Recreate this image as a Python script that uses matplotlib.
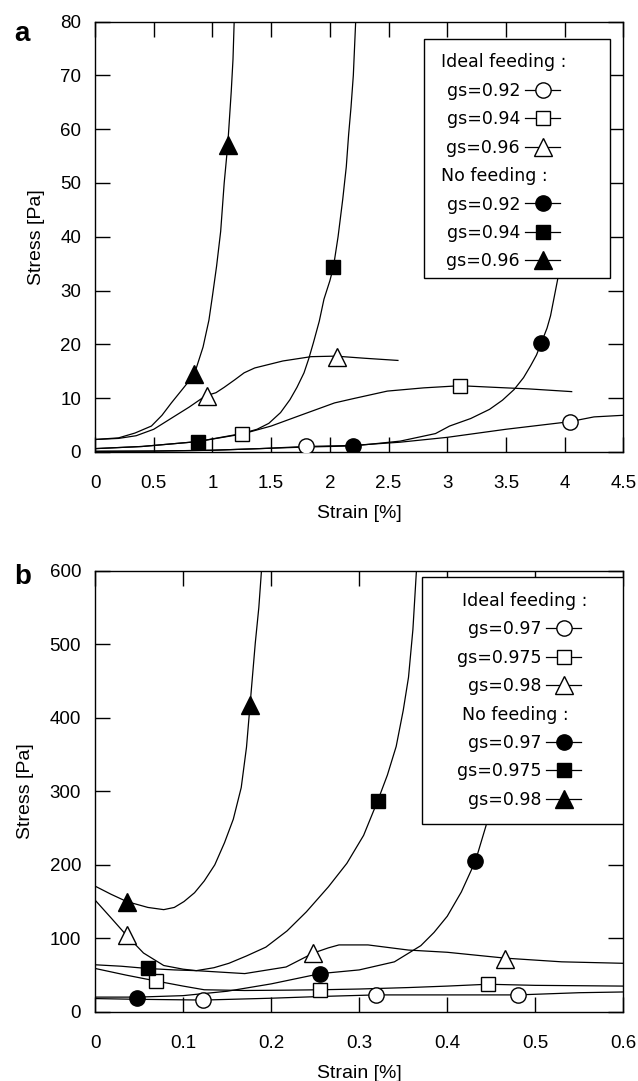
import matplotlib
matplotlib.use("Agg")
import matplotlib.pyplot as plt
from matplotlib.lines import Line2D
from matplotlib.patches import Rectangle

plt.rcParams['font.family'] = ['Liberation Sans', 'DejaVu Sans']

# ---------------- panel a data (strain %, stress Pa) ----------------
A_IDEAL_092_X = [0, 0.5, 1.0, 1.4, 1.8, 2.2, 2.6, 3.0, 3.5, 4.04, 4.25, 4.5]
A_IDEAL_092_Y = [0.1, 0.15, 0.3, 0.6, 1.0, 1.2, 1.8, 2.7, 4.2, 5.6, 6.5, 6.8]
A_IDEAL_092_MX = [1.80, 4.05]
A_IDEAL_092_MY = [1.1, 5.6]

A_NOFEED_092_X = [0, 0.5, 1.0, 1.4, 1.8, 2.2, 2.6, 2.9, 3.02, 3.2, 3.36, 3.47, 3.57, 3.65, 3.71, 3.76, 3.8, 3.85, 3.88, 3.94, 4.0]
A_NOFEED_092_Y = [0.1, 0.15, 0.3, 0.6, 0.9, 1.1, 2.0, 3.4, 4.8, 6.2, 7.9, 9.6, 11.6, 13.8, 16.0, 18.0, 20.2, 23.0, 25.3, 32.0, 42.0]
A_NOFEED_092_MX = [2.2, 3.8]
A_NOFEED_092_MY = [1.1, 20.2]

A_IDEAL_094_X = [0, 0.4, 0.87, 1.25, 1.5, 1.75, 2.04, 2.2, 2.49, 2.8, 3.11, 3.4, 3.7, 4.06]
A_IDEAL_094_Y = [0.6, 1.0, 1.9, 3.3, 4.8, 6.8, 9.1, 9.9, 11.3, 11.9, 12.3, 12.0, 11.7, 11.2]
A_IDEAL_094_MX = [1.25, 3.11]
A_IDEAL_094_MY = [3.25, 12.3]

A_NOFEED_094_X = [0, 0.4, 0.87, 1.25, 1.38, 1.48, 1.58, 1.66, 1.72, 1.78, 1.82, 1.86, 1.91, 1.95, 2.0, 2.03, 2.07, 2.11, 2.14, 2.16, 2.18, 2.2, 2.22]
A_NOFEED_094_Y = [0.6, 1.0, 1.9, 3.4, 4.2, 5.3, 7.3, 9.7, 12.0, 14.7, 17.3, 20.3, 24.3, 28.4, 31.8, 34.3, 40.0, 47.0, 53.0, 59.0, 64.0, 70.0, 80.0]
A_NOFEED_094_MX = [0.88, 2.03]
A_NOFEED_094_MY = [1.9, 34.3]

A_IDEAL_096_X = [0, 0.2, 0.35, 0.5, 0.69, 0.8, 0.94, 1.03, 1.1, 1.19, 1.27, 1.36, 1.6, 1.84, 2.05, 2.3, 2.58]
A_IDEAL_096_Y = [2.3, 2.5, 3.0, 4.2, 6.8, 8.3, 10.4, 11.0, 12.0, 13.4, 14.7, 15.6, 16.9, 17.7, 17.8, 17.4, 17.0]
A_IDEAL_096_MX = [0.95, 2.06]
A_IDEAL_096_MY = [10.4, 17.7]

A_NOFEED_096_X = [0, 0.2, 0.34, 0.48, 0.57, 0.65, 0.75, 0.845, 0.92, 0.97, 1.0, 1.035, 1.07, 1.1, 1.13, 1.16, 1.175, 1.185]
A_NOFEED_096_Y = [2.3, 2.6, 3.5, 4.8, 6.8, 9.1, 11.8, 14.4, 19.5, 24.5, 29.0, 34.5, 41.0, 50.0, 57.0, 67.0, 73.0, 80.0]
A_NOFEED_096_MX = [0.845, 1.13]
A_NOFEED_096_MY = [14.5, 57.0]

A_XTICKS = [0, 0.5, 1, 1.5, 2, 2.5, 3, 3.5, 4, 4.5]
A_XLABELS = ["0", "0.5", "1", "1.5", "2", "2.5", "3", "3.5", "4", "4.5"]
A_YTICKS = [0, 10, 20, 30, 40, 50, 60, 70, 80]
A_LEGEND = ["gs=0.92", "gs=0.94", "gs=0.96"]

# ---------------- panel b data ----------------
B_IDEAL_097_X = [0, 0.05, 0.123, 0.2, 0.26, 0.319, 0.4, 0.48, 0.55, 0.6]
B_IDEAL_097_Y = [18, 17, 16, 18.5, 21, 23, 23, 23, 26, 27]
B_IDEAL_097_MX = [0.123, 0.319, 0.48]
B_IDEAL_097_MY = [16, 23, 23]

B_NOFEED_097_X = [0, 0.048, 0.1, 0.15, 0.2, 0.256, 0.3, 0.34, 0.37, 0.385, 0.4, 0.416, 0.432, 0.444, 0.46, 0.475]
B_NOFEED_097_Y = [20, 20, 22, 28, 38, 52, 57, 68, 90, 108, 130, 163, 205, 253, 350, 480]
B_NOFEED_097_MX = [0.048, 0.256, 0.432]
B_NOFEED_097_MY = [19, 52, 205]

B_IDEAL_0975_X = [0, 0.035, 0.069, 0.1, 0.124, 0.17, 0.22, 0.256, 0.3, 0.356, 0.4, 0.446, 0.5, 0.6]
B_IDEAL_0975_Y = [59, 50, 42, 35, 30, 29, 29.5, 30, 31, 33, 35, 37.5, 36, 35]
B_IDEAL_0975_MX = [0.069, 0.256, 0.446]
B_IDEAL_0975_MY = [42, 30, 37.5]

B_NOFEED_0975_X = [0, 0.03, 0.059, 0.09, 0.115, 0.135, 0.152, 0.172, 0.194, 0.218, 0.24, 0.265, 0.286, 0.305, 0.321, 0.332, 0.342, 0.35, 0.356, 0.361, 0.365]
B_NOFEED_0975_Y = [64, 62, 59, 57, 56, 60, 66, 76, 88, 110, 136, 170, 202, 240, 287, 322, 361, 410, 455, 520, 600]
B_NOFEED_0975_MX = [0.06, 0.321]
B_NOFEED_0975_MY = [60, 287]

B_IDEAL_098_X = [0, 0.018, 0.035, 0.055, 0.078, 0.1, 0.115, 0.17, 0.217, 0.248, 0.265, 0.277, 0.31, 0.356, 0.4, 0.466, 0.53, 0.6]
B_IDEAL_098_Y = [152, 128, 105, 80, 63, 58, 56, 52, 61, 80, 87, 91, 91, 84, 81, 73, 68, 66]
B_IDEAL_098_MX = [0.036, 0.247, 0.466]
B_IDEAL_098_MY = [105, 80, 72]

B_NOFEED_098_X = [0, 0.018, 0.036, 0.06, 0.078, 0.09, 0.101, 0.113, 0.124, 0.136, 0.147, 0.157, 0.166, 0.172, 0.176, 0.182, 0.186, 0.189]
B_NOFEED_098_Y = [171, 160, 150, 142, 139, 142, 150, 162, 178, 200, 230, 262, 305, 360, 417, 502, 550, 600]
B_NOFEED_098_MX = [0.036, 0.176]
B_NOFEED_098_MY = [150, 417]

B_XTICKS = [0, 0.1, 0.2, 0.3, 0.4, 0.5, 0.6]
B_XLABELS = ["0", "0.1", "0.2", "0.3", "0.4", "0.5", "0.6"]
B_YTICKS = [0, 100, 200, 300, 400, 500, 600]
B_LEGEND = ["gs=0.97", "gs=0.975", "gs=0.98"]

# marker styles: (marker, size, face)
STYLES = [("o", 11, "white"), ("s", 10, "white"), ("^", 13, "white"),
          ("o", 11, "black"), ("s", 10, "black"), ("^", 13, "black")]


def draw_panel(ax, curves, marks):
    for (x, y) in curves:
        ax.plot(x, y, color="black", lw=0.9, zorder=2)
    for (mx, my), (m, ms, fc) in zip(marks, STYLES):
        ax.plot(mx, my, ls="none", marker=m, ms=ms, mfc=fc, mec="black",
                mew=1.0, zorder=3)


def style_axes(ax, xlim, ylim, xticks, xlabels, yticks):
    ax.set_xlim(*xlim)
    ax.set_ylim(*ylim)
    ax.set_xticks(xticks, xlabels)
    ax.set_yticks(yticks)
    ax.tick_params(direction="in", length=10.5, width=1.0, top=True, right=True,
                   labelsize=13.5)
    ax.tick_params(axis="x", pad=17)
    ax.tick_params(axis="y", pad=10)
    for s in ax.spines.values():
        s.set_linewidth(1.0)
    ax.set_xlabel("Strain [%]", fontsize=14, labelpad=9)
    ax.set_ylabel("Stress [Pa]", fontsize=14, labelpad=11)


def add_legend(ax, names, anchor, box):
    blank = Line2D([], [], ls="none")
    handles = [blank]
    labels = ["Ideal feeding :"]
    for i, (m, ms, fc) in enumerate(STYLES):
        if i == 3:
            handles.append(blank)
            labels.append("No feeding :")
        handles.append(Line2D([], [], color="black", lw=0.9, marker=m, ms=ms,
                              mfc=fc, mec="black"))
        labels.append(names[i % 3])
    ax.add_patch(Rectangle(box[:2], box[2], box[3], transform=ax.transAxes,
                           fc="white", ec="black", lw=1.0, zorder=5))
    leg = ax.legend(handles, labels, loc="upper right", bbox_to_anchor=anchor,
                    frameon=False, markerfirst=False, handlelength=2.0,
                    handletextpad=0.3, labelspacing=0.6, borderpad=0,
                    borderaxespad=0,
                    prop={"family": "DejaVu Sans", "size": 12.5})
    leg.set_zorder(6)
    return leg


fig = plt.figure(figsize=(6.38, 10.81), dpi=100)
ax_a = fig.add_axes([0.149, 0.582, 0.828, 0.398])
ax_b = fig.add_axes([0.149, 0.064, 0.828, 0.408])

draw_panel(ax_a,
           [(A_IDEAL_092_X, A_IDEAL_092_Y), (A_IDEAL_094_X, A_IDEAL_094_Y),
            (A_IDEAL_096_X, A_IDEAL_096_Y), (A_NOFEED_092_X, A_NOFEED_092_Y),
            (A_NOFEED_094_X, A_NOFEED_094_Y), (A_NOFEED_096_X, A_NOFEED_096_Y)],
           [(A_IDEAL_092_MX, A_IDEAL_092_MY), (A_IDEAL_094_MX, A_IDEAL_094_MY),
            (A_IDEAL_096_MX, A_IDEAL_096_MY), (A_NOFEED_092_MX, A_NOFEED_092_MY),
            (A_NOFEED_094_MX, A_NOFEED_094_MY), (A_NOFEED_096_MX, A_NOFEED_096_MY)])
style_axes(ax_a, (0, 4.5), (0, 80), A_XTICKS, A_XLABELS, A_YTICKS)
leg_a = add_legend(ax_a, A_LEGEND, (0.88, 0.926), (0.622, 0.403, 0.352, 0.556))

draw_panel(ax_b,
           [(B_IDEAL_097_X, B_IDEAL_097_Y), (B_IDEAL_0975_X, B_IDEAL_0975_Y),
            (B_IDEAL_098_X, B_IDEAL_098_Y), (B_NOFEED_097_X, B_NOFEED_097_Y),
            (B_NOFEED_0975_X, B_NOFEED_0975_Y), (B_NOFEED_098_X, B_NOFEED_098_Y)],
           [(B_IDEAL_097_MX, B_IDEAL_097_MY), (B_IDEAL_0975_MX, B_IDEAL_0975_MY),
            (B_IDEAL_098_MX, B_IDEAL_098_MY), (B_NOFEED_097_MX, B_NOFEED_097_MY),
            (B_NOFEED_0975_MX, B_NOFEED_0975_MY), (B_NOFEED_098_MX, B_NOFEED_098_MY)])
style_axes(ax_b, (0, 0.6), (0, 600), B_XTICKS, B_XLABELS, B_YTICKS)
leg_b = add_legend(ax_b, B_LEGEND, (0.92, 0.952), (0.618, 0.426, 0.382, 0.56))

fig.text(0.022, 0.969, "a", fontsize=20, fontweight="bold", va="center")
fig.text(0.022, 0.466, "b", fontsize=20, fontweight="bold", va="center")

# move the section headers so they start just left of the entries
fig.canvas.draw()
renderer = fig.canvas.get_renderer()
for leg in (leg_a, leg_b):
    texts = leg.get_texts()
    ref_x = texts[1].get_window_extent(renderer).x0
    for i in (0, 4):
        bb = texts[i].get_window_extent(renderer)
        texts[i].set_x(ref_x - 6 - bb.x0)

fig.savefig("out.png", dpi=100)
